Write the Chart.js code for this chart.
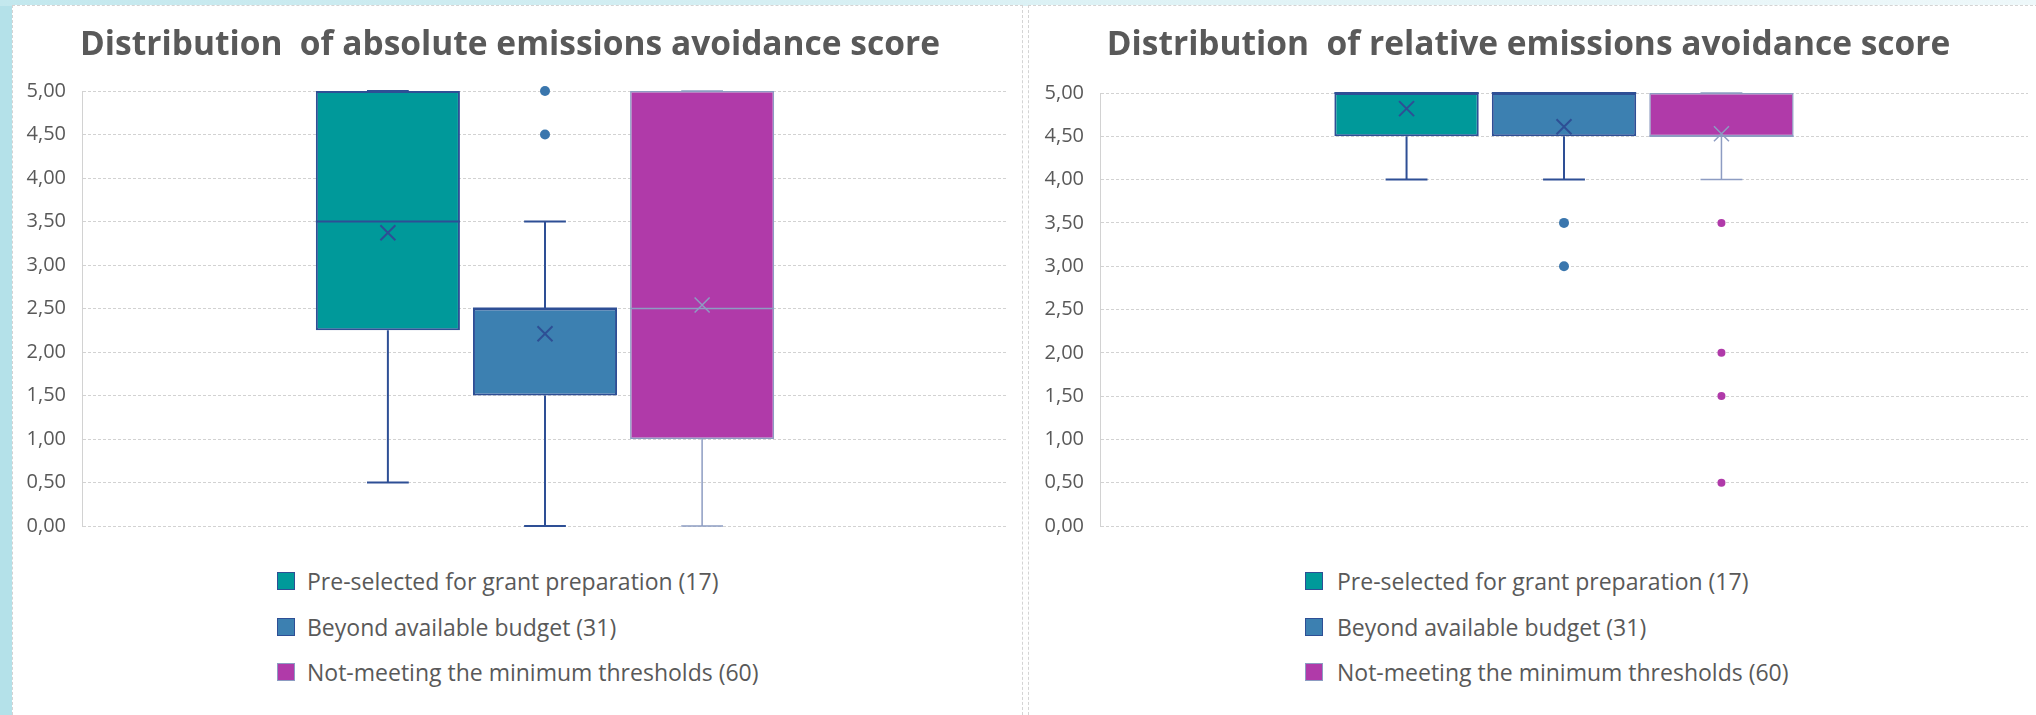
<!DOCTYPE html>
<html>
<head>
<meta charset="utf-8">
<script src="https://cdn.jsdelivr.net/npm/chart.js@4.4.1/dist/chart.umd.min.js"></script>
<style>
    html, body { margin: 0; padding: 0; }
    body {
        width: 2036px;
        height: 715px;
        position: relative;
        overflow: hidden;
        background: #ffffff;
        font-family: "Open Sans", sans-serif;
    }
    .strip-left { position: absolute; left: 0; top: 0; width: 12px; height: 715px; background: #b4e1e9; }
    .strip-top { position: absolute; left: 0; top: 0; width: 2036px; height: 6px;
        background: linear-gradient(to right, #c3e8ee, #e0f3f6 60%, #eef8fa); }
    .panel { position: absolute; top: 5px; height: 715px; box-sizing: border-box;
        border: 1px dashed #d4d4d4; background: #ffffff; }
    canvas { position: absolute; }
    .legend-item { position: absolute; height: 24px; display: flex; align-items: center;
        color: #595959; font-size: 23px; white-space: nowrap; }
    .legend-box { width: 18px; height: 18px; box-sizing: border-box; border: 1.5px solid #2e4f95;
        margin-right: 12px; flex: none; }
</style>
</head>
<body>
<div class="strip-left"></div>
<div class="strip-top"></div>
<div class="panel" style="left:12px; width:1011px;"></div>
<div class="panel" style="left:1028px; width:1010px;"></div>

<canvas id="absChart" width="1010" height="549" style="left:12px; top:5px;"></canvas>
<canvas id="relChart" width="1007" height="549" style="left:1029px; top:5px;"></canvas>
<div id="absLegend"></div>
<div id="relLegend"></div>

<script>
const groupNames = [
    'Pre-selected for grant preparation (17)',
    'Beyond available budget (31)',
    'Not-meeting the minimum thresholds (60)'
];
const fillColors = ['#00999a', '#3c80b1', '#b03aa9'];
const lineColors = ['#2e4f95', '#2e4f95', '#8d9cc2'];
const dotColors = ['#2e4f95', '#3a76ad', '#b03aa9'];

// absolute emissions avoidance score
const absMin = [0.5, 0, 0];
const absQ1 = [2.25, 1.5, 1.0];
const absMedian = [3.5, 2.5, 2.5];
const absQ3 = [5, 2.5, 5];
const absMax = [5, 3.5, 5];
const absMean = [3.37, 2.21, 2.54];
const absOutliers = [[], [4.5, 5], []];

// relative emissions avoidance score
const relMin = [4, 4, 4];
const relQ1 = [4.5, 4.5, 4.5];
const relMedian = [5, 5, 4.5];
const relQ3 = [5, 5, 5];
const relMax = [5, 5, 5];
const relMean = [4.82, 4.61, 4.53];
const relOutliers = [[], [3.5, 3], [3.5, 2, 1.5, 0.5]];

// whiskers, caps, median, mean cross and outliers on top of the floating bars
const boxPlotLines = {
    id: 'boxPlotLines',
    afterDatasetsDraw(chart, args, opts) {
        const ctx = chart.ctx;
        const y = chart.scales.y;
        const s = opts.stats;

        chart.data.datasets.forEach((ds, i) => {
            const bar = chart.getDatasetMeta(i).data[0];
            const cx = bar.x;
            const half = bar.width / 2;
            const cap = bar.width * 0.145;
            const lw = i === 2 ? 1.5 : 2;

            ctx.save();
            ctx.strokeStyle = lineColors[i];
            ctx.lineWidth = lw;

            const seg = (x1, v1, x2, v2) => {
                ctx.beginPath();
                ctx.moveTo(x1, y.getPixelForValue(v1));
                ctx.lineTo(x2, y.getPixelForValue(v2));
                ctx.stroke();
            };

            // whiskers + caps
            seg(cx, s.q3[i], cx, s.max[i]);
            seg(cx, s.q1[i], cx, s.min[i]);
            seg(cx - cap, s.max[i], cx + cap, s.max[i]);
            seg(cx - cap, s.min[i], cx + cap, s.min[i]);

            // median
            seg(cx - half, s.median[i], cx + half, s.median[i]);

            // mean marker
            const my = y.getPixelForValue(s.mean[i]);
            const r = 7.5;
            ctx.beginPath();
            ctx.moveTo(cx - r, my - r);
            ctx.lineTo(cx + r, my + r);
            ctx.moveTo(cx - r, my + r);
            ctx.lineTo(cx + r, my - r);
            ctx.stroke();

            // outliers
            ctx.fillStyle = dotColors[i];
            s.outliers[i].forEach(v => {
                ctx.beginPath();
                ctx.arc(cx, y.getPixelForValue(v), i === 2 ? 4 : 5, 0, Math.PI * 2);
                ctx.fill();
            });
            ctx.restore();
        });
    }
};

function renderBoxChart(canvasId, titleText, stats, axisWidth, padRight, titleBottom) {
    const ctx = document.getElementById(canvasId).getContext('2d');

    const datasets = groupNames.map((name, i) => ({
        label: name,
        data: [[stats.q1[i], stats.q3[i]]],
        backgroundColor: fillColors[i],
        borderColor: lineColors[i],
        borderWidth: i === 2 ? 1.5 : 2,
        borderSkipped: false,
        categoryPercentage: 0.509,
        barPercentage: 0.917
    }));

    return new Chart(ctx, {
        type: 'bar',
        data: {
            labels: [''],
            datasets: datasets
        },
        options: {
            responsive: false,
            animation: false,
            events: [],
            layout: {
                // bottom has to cover half a tick label plus the tick padding
                padding: { left: 0, right: padRight, top: 0, bottom: 28 }
            },
            scales: {
                x: {
                    afterFit: function (scale) {
                        scale.height = 0;
                    },
                    grid: { display: false },
                    border: { display: false },
                    ticks: { display: false }
                },
                y: {
                    min: 0,
                    max: 5,
                    afterFit: function (scale) {
                        scale.width = axisWidth;
                    },
                    grid: {
                        color: '#d2d2d2',
                        lineWidth: 1,
                        drawTicks: false
                    },
                    border: {
                        color: '#d2d2d2',
                        dash: [3, 2]
                    },
                    ticks: {
                        stepSize: 0.5,
                        padding: 16,
                        color: '#595959',
                        font: { family: 'Open Sans', size: 20 },
                        callback: function (value) {
                            return value.toFixed(2).replace('.', ',');
                        }
                    }
                }
            },
            plugins: {
                legend: { display: false },
                tooltip: { enabled: false },
                title: {
                    display: true,
                    text: titleText,
                    color: '#595959',
                    font: { family: 'Open Sans', size: 33.5, weight: 'bold', lineHeight: 1.2 },
                    padding: { top: 20, bottom: titleBottom }
                },
                boxPlotLines: { stats: stats }
            }
        },
        plugins: [boxPlotLines]
    });
}

function renderLegend(elId, boxLeft, gap) {
    const rowCenters = [581, 627, 672];
    const el = document.getElementById(elId);
    groupNames.forEach((name, i) => {
        const item = document.createElement('div');
        item.className = 'legend-item';
        item.style.left = boxLeft + 'px';
        item.style.top = (rowCenters[i] - 12) + 'px';
        const box = document.createElement('span');
        box.className = 'legend-box';
        box.style.background = fillColors[i];
        box.style.borderColor = lineColors[i];
        box.style.marginRight = gap + 'px';
        const label = document.createElement('span');
        label.textContent = name;
        item.appendChild(box);
        item.appendChild(label);
        el.appendChild(item);
    });
}

renderBoxChart('absChart', 'Distribution  of absolute emissions avoidance score', {
    min: absMin, q1: absQ1, median: absMedian, q3: absQ3, max: absMax,
    mean: absMean, outliers: absOutliers
}, 70, 14, 25.8);

renderBoxChart('relChart', 'Distribution  of relative emissions avoidance score', {
    min: relMin, q1: relQ1, median: relMedian, q3: relQ3, max: relMax,
    mean: relMean, outliers: relOutliers
}, 71, 8, 27.8);

renderLegend('absLegend', 277, 12);
renderLegend('relLegend', 1305, 14);
</script>
</body>
</html>
